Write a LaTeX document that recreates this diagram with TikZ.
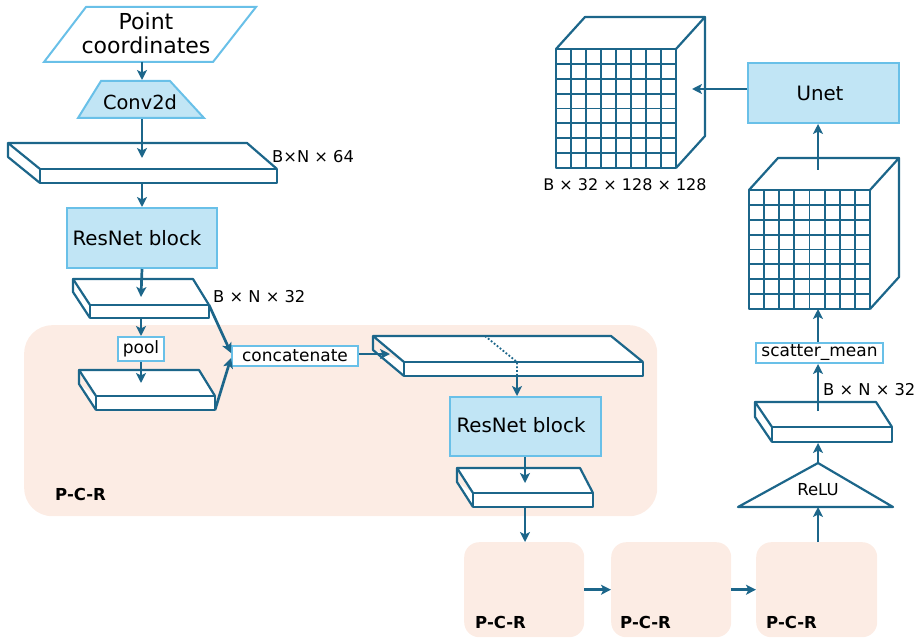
\documentclass[tikz,border=0pt]{standalone}
\usepackage{fontspec}
\setmainfont{DejaVu Sans}
\usetikzlibrary{arrows.meta,calc}
\definecolor{dk}{RGB}{28,102,138}
\definecolor{lb}{RGB}{105,192,232}
\definecolor{lbf}{RGB}{193,229,245}
\definecolor{pch}{RGB}{252,236,228}
\tikzset{
 arr/.style={draw=dk, line width=2.7pt, -{Stealth[length=10pt,width=10pt,inset=2.5pt]}},
 slabline/.style={draw=dk, line width=2.2pt, line join=round},
 gridl/.style={draw=dk, line width=1.9pt},
 bluebox/.style={draw=lb, fill=lbf, line width=2pt, inner sep=0pt},
 wbox/.style={draw=lb, fill=white, line width=2pt, inner sep=0pt},
 pcrbox/.style={fill=pch, draw=none, rounded corners=15pt},
 pcrlbl/.style={font=\bfseries\fontsize{16.5}{18}\selectfont, inner sep=0pt, anchor=west},
 dimlbl/.style={font=\fontsize{16.3}{18}\selectfont, inner sep=0pt, anchor=west},
 midtxt/.style={font=\fontsize{17}{20}\selectfont},
 bigtxt/.style={font=\fontsize{19.8}{24}\selectfont},
}
% slab: #1 name, #2 x1, #3 x2, #4 y front top, #5 h, #6 dxL, #7 dxR, #8 dy
\newcommand\myslab[8]{%
 \fill[white] (#2,#4) -- ({#2+#6},{#4+#8}) -- ({#3+#7},{#4+#8}) -- (#3,#4) -- (#3,{#4+#5}) -- (#2,{#4+#5}) -- ({#2+#6},{#4+#8+#5}) -- cycle;
 \draw[slabline] (#2,#4) rectangle (#3,{#4+#5});
 \draw[slabline] (#2,#4) -- ({#2+#6},{#4+#8}) -- ({#3+#7},{#4+#8}) -- (#3,#4);
 \draw[slabline] ({#2+#6},{#4+#8}) -- ({#2+#6},{#4+#8+#5}) -- (#2,{#4+#5});
 \coordinate (#1-ftr) at (#3,#4);
 \coordinate (#1-fbr) at (#3,{#4+#5});
}
% cube: #1 name, #2 x1, #3 y1, #4 x2, #5 y2 (front face)
\newcommand\mycube[5]{%
 \fill[white] (#2,#3) -- ({#2+29},{#3-32}) -- ({#4+29},{#3-32}) -- ({#4+29},{#5-32}) -- (#4,#5) -- (#2,#5) -- cycle;
 \foreach \i in {1,2,3,4,5,6,7}{
  \pgfmathsetmacro\gx{#2+\i*(#4-#2)/8}
  \pgfmathsetmacro\gy{#3+\i*(#5-#3)/8}
  \draw[gridl] (\gx,#3) -- (\gx,#5);
  \draw[gridl] (#2,\gy) -- (#4,\gy);
 }
 \draw[slabline] (#2,#3) rectangle (#4,#5);
 \draw[slabline] (#2,#3) -- ({#2+29},{#3-32}) -- ({#4+29},{#3-32}) -- (#4,#3);
 \draw[slabline] ({#4+29},{#3-32}) -- ({#4+29},{#5-32}) -- (#4,#5);
}
\begin{document}
\begin{tikzpicture}[x=1pt,y=-1pt]
\useasboundingbox (0,0) rectangle (917,639);

% background P-C-R regions
\node[pcrbox, rounded corners=28pt, minimum width=633pt, minimum height=191pt, anchor=north west] (bigpcr) at (24,325) {};
\node[pcrbox, minimum width=120pt, minimum height=95pt, anchor=north west] (p1) at (464,542) {};
\node[pcrbox, minimum width=120pt, minimum height=95pt, anchor=north west] (p2) at (611,542) {};
\node[pcrbox, minimum width=121pt, minimum height=95pt, anchor=north west] (p3) at (756,542) {};
\node[pcrlbl] (bigpcrl) at (55,494) {P-C-R};
\node[pcrlbl] (p1l) at (475,622) {P-C-R};
\node[pcrlbl] (p2l) at (620,622) {P-C-R};
\node[pcrlbl] (p3l) at (766,622) {P-C-R};

% point coordinates
\draw[draw=lb, fill=white, line width=2pt] (86,7) -- (256,7) -- (213,62) -- (44,62) -- cycle;
\node[align=center, font=\fontsize{22}{24}\selectfont, inner sep=0pt] (pc) at (146,33) {Point\\coordinates};
\coordinate (pcb) at (142,62);

% conv2d
\draw[draw=lb, fill=lbf, line width=2pt] (101,81) -- (170,81) -- (204,118) -- (78,118) -- cycle;
\node[font=\fontsize{19.4}{22}\selectfont, inner sep=0pt] (conv) at (140,102) {Conv2d};
\coordinate (cvt) at (142,80);
\coordinate (cvb) at (142,119);

% slab 1
\myslab{s1}{40}{277}{169}{14}{-32}{-30}{-26}
\coordinate (s1in) at (142,158);
\coordinate (s1out) at (142,183);
\node[dimlbl] (l64) at (272,157) {B×N × 64};

% ResNet block 1
\node[bluebox, minimum width=150pt, minimum height=60pt, anchor=north west] (rb1) at (66,207) {};
\node[bigtxt, inner sep=0pt] (rb1t) at (137,238) {ResNet block};

% slab 2
\myslab{s2}{90}{209}{305}{13}{-17}{-16}{-26}
\coordinate (s2in) at (141,297);
\coordinate (s2out) at (141,318);
\node[dimlbl] (l32a) at (213,297) {B × N × 32};

% pool
\node[wbox, minimum width=46pt, minimum height=24pt, midtxt] (pool) at (141,349) {pool};

% slab 3
\myslab{s3}{96}{215}{396}{14}{-17}{-16}{-26}
\coordinate (s3in) at (141,383);

% concatenate
\node[wbox, minimum width=126pt, minimum height=20pt, midtxt] (cat) at (295,356) {concatenate};

% slab 4
\myslab{s4}{404}{643}{362}{14}{-31}{-32}{-26}
\coordinate (s4in) at (390,354);
\coordinate (s4a) at (485,336);
\coordinate (s4b) at (517,362);
\coordinate (s4c) at (517,376);

% ResNet block 2
\node[bluebox, minimum width=151pt, minimum height=59pt, anchor=north west] (rb2) at (449,396) {};
\node[bigtxt, inner sep=0pt] (rb2t) at (521,425) {ResNet block};

% slab 5
\myslab{s5}{473}{593}{493}{14}{-16}{-13}{-25}
\coordinate (s5in) at (525,483);
\coordinate (s5out) at (525,507);

% ReLU
\draw[slabline, fill=white] (818,463) -- (893,507) -- (738,507) -- cycle;
\node[font=\fontsize{16.5}{20}\selectfont, inner sep=0pt] (relu) at (818,490) {ReLU};
\coordinate (relub) at (818,507);
\coordinate (relut) at (818,463);

% slab 6
\myslab{s6}{772}{892}{427}{15}{-17}{-16}{-25}
\coordinate (s6bot) at (818,443);
\coordinate (s6in) at (818,411);
\node[dimlbl] (l32b) at (823,390) {B × N × 32};

% scatter_mean
\node[wbox, minimum width=127pt, minimum height=20pt, midtxt] (sm) at (819.5,353) {scatter\_mean};

% cubes
\mycube{c2}{749}{190}{870}{309}
\coordinate (c2b) at (818,309);
\coordinate (c2in) at (818,170);
\mycube{c1}{556}{49}{676}{168}
\coordinate (c1in) at (692,89);
\node[font=\fontsize{16}{20}\selectfont, inner sep=0pt] (l128) at (625,185) {B × 32 × 128 × 128};

% Unet
\node[bluebox, minimum width=151pt, minimum height=60pt, anchor=north west] (unet) at (747,62) {};
\node[bigtxt, inner sep=0pt] (unett) at (820,93) {Unet};
\coordinate (unetw) at (747,89);

% connectors
\draw[arr] (pcb) -- (cvt);
\draw[arr] (cvb) -- (s1in);
\draw[arr] (s1out) -- (s1out |- rb1.north);
\draw[arr] (s1out |- rb1.south) -- (s2in);
\draw[arr] (s2out) -- (pool.north);
\draw[arr] (pool.south) -- (s3in);
\draw[arr] (s2-ftr) -- ([yshift=3pt]cat.west);
\draw[arr] (s3-fbr) -- ([yshift=-2pt]cat.west);
\draw[arr] ([yshift=2pt]cat.east) -- (s4in);
\draw[draw=dk, line width=1.8pt, dotted] (s4a) -- (s4b) -- (s4c);
\draw[arr] (s4c) -- (s4c |- rb2.north);
\draw[arr] (s5out |- rb2.south) -- (s5in);
\draw[arr] (s5out) -- (s5out |- p1.north);
\draw[arr] (p1.east) -- (p2.west);
\draw[arr] (p2.east) -- (p3.west);
\draw[arr] (relub |- p3.north) -- (relub);
\draw[arr] (relut) -- (s6bot);
\draw[arr] (s6in) -- (s6in |- sm.south);
\draw[arr] (s6in |- sm.north) -- (c2b);
\draw[arr] (c2in) -- (c2in |- unet.south);
\draw[arr] (unetw) -- (c1in);
\end{tikzpicture}
\end{document}
